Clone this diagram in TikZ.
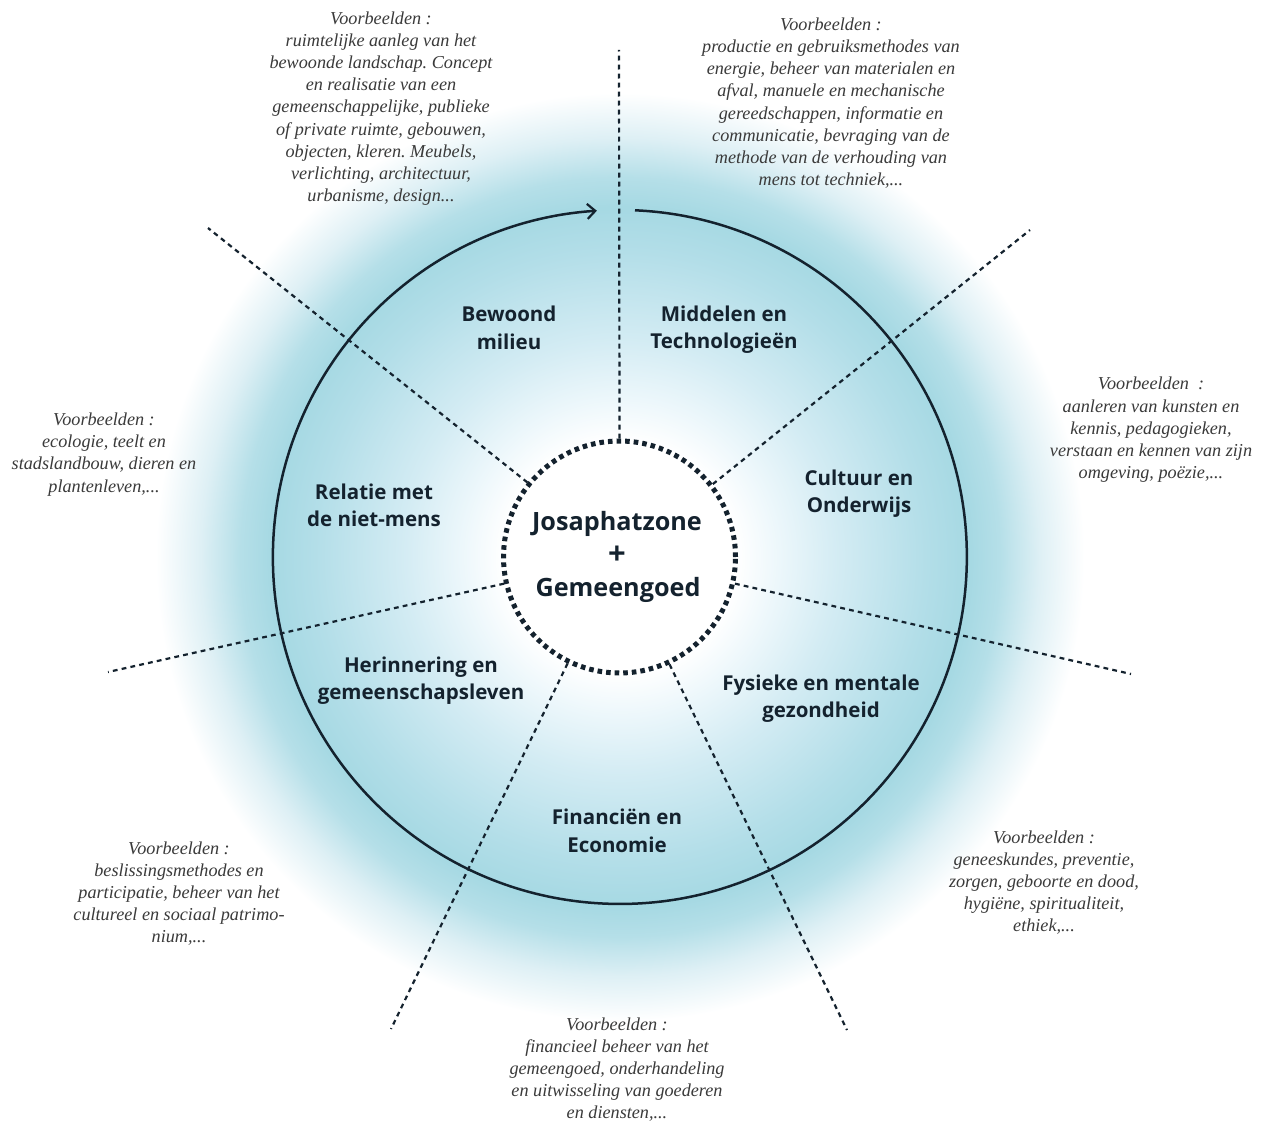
\documentclass[tikz,border=0pt]{standalone}
\usepackage{fontspec}
\setmainfont{Liberation Serif}
\newfontfamily\labelfont{Open Sans}
\usetikzlibrary{arrows.meta}
\definecolor{inkdark}{HTML}{14222E}
\definecolor{notegray}{HTML}{3A3A3A}
\pgfdeclareradialshading{glowring}{\pgfpoint{0bp}{0bp}}{%
 rgb(0bp)=(1,1,1);
 rgb(6.2bp)=(1,1,1);
 rgb(8.35bp)=(0.93,0.97,0.985);
 rgb(11.5bp)=(0.83,0.925,0.955);
 rgb(16.3bp)=(0.70,0.87,0.91);
 rgb(18.6bp)=(0.65,0.85,0.89);
 rgb(20.2bp)=(0.71,0.875,0.91);
 rgb(22.3bp)=(0.87,0.94,0.96);
 rgb(24.7bp)=(1,1,1);
 rgb(50bp)=(1,1,1)}
\tikzset{
 x=1pt,y=-1pt,
 spoke/.style={inkdark,line width=2.2pt,dash pattern=on 4.8pt off 4.2pt},
 ringline/.style={inkdark,line width=2.5pt},
 note/.style={text=notegray,align=center,inner sep=0pt,font=\frenchspacing\fontsize{18.2}{22.2}\selectfont\itshape},
 sector/.style={text=inkdark,align=center,inner sep=0pt,font=\labelfont\bfseries\fontsize{20.5}{27.5}\selectfont},
 hubnode/.style={circle,fill=white,draw=inkdark,line width=5pt,dash pattern=on 4.6pt off 4pt,minimum size=232pt,inner sep=0pt,text=inkdark,align=center,font=\labelfont\bfseries\fontsize{25.2}{33}\selectfont},
}
\begin{document}
\begin{tikzpicture}
\useasboundingbox[fill=white] (0,0) rectangle (1264,1121);
\shade[shading=glowring] (620,557) circle[radius=470];
\coordinate (arcstart) at (635,210.3);
\draw[ringline,-{Straight Barb[length=8pt,width=15pt,line width=2.2pt]}] (arcstart) arc[start angle=-87.5,end angle=266.2,radius=347];
\node[hubnode] (hub) at (619.5,557) {\kern-5pt\raisebox{-2pt}{Josaphatzone}\\\kern-5pt\raisebox{-3pt}{\fontsize{31}{33}\selectfont +}\\\kern-3pt\raisebox{-2pt}{Gemeengoed}};
\coordinate (e1) at (619,50);
\coordinate (e2) at (1030,230);
\coordinate (e3) at (1131,674);
\coordinate (e4) at (847,1030);
\coordinate (e5) at (391,1029);
\coordinate (e6) at (108,672);
\coordinate (e7) at (208,228);
\draw[spoke] (hub.90) -- (e1);
\draw[spoke] (hub.38.6) -- (e2);
\draw[spoke] (hub.-13) -- (e3);
\draw[spoke] (hub.-65) -- (e4);
\draw[spoke] (hub.-116) -- (e5);
\draw[spoke] (hub.193) -- (e6);
\draw[spoke] (hub.141) -- (e7);
\node[sector] (s1) at (509,328) {Bewoond\\milieu};
\node[sector] (s2) at (724,329.5) {Middelen en\\Technologieën};
\node[sector] (s3) at (859,493.5) {Cultuur en\\Onderwijs};
\node[sector] (s4) at (821,698.5) {Fysieke en mentale\\gezondheid};
\node[sector] (s5) at (617,831) {Financiën en\\Economie};
\node[sector] (s6) at (421,680.5) {Herinnering en\\gemeenschapsleven};
\node[sector] (s7) at (374,505.5) {Relatie met\\de niet-mens};
\node[note] (n1) at (381,108.5) {Voorbeelden :\\ruimtelijke aanleg van het\\bewoonde landschap. Concept\\en realisatie van een\\gemeenschappelijke, publieke\\of private ruimte, gebouwen,\\objecten, kleren. Meubels,\\verlichting, architectuur,\\urbanisme, design...};
\node[note] (n2) at (831,103) {Voorbeelden :\\productie en gebruiksmethodes van\\energie, beheer van materialen en\\afval, manuele en mechanische\\gereedschappen, informatie en\\communicatie, bevraging van de\\methode van de verhouding van\\mens tot techniek,...};
\node[note] (n3) at (1151,430) {Voorbeelden~~:\\aanleren van kunsten en\\kennis, pedagogieken,\\verstaan en kennen van zijn\\omgeving, poëzie,...};
\node[note] (n4) at (1044,882.5) {Voorbeelden :\\geneeskundes, preventie,\\zorgen, geboorte en dood,\\hygiëne, spiritualiteit,\\ethiek,...};
\node[note] (n5) at (617,1069.5) {Voorbeelden :\\financieel beheer van het\\gemeengoed, onderhandeling\\en uitwisseling van goederen\\en diensten,...};
\node[note] (n6) at (179,893.5) {Voorbeelden :\\beslissingsmethodes en\\participatie, beheer van het\\cultureel en sociaal patrimo-\\nium,...};
\node[note] (n7) at (104,454.5) {Voorbeelden :\\ecologie, teelt en\\stadslandbouw, dieren en\\plantenleven,...};
\end{tikzpicture}
\end{document}
